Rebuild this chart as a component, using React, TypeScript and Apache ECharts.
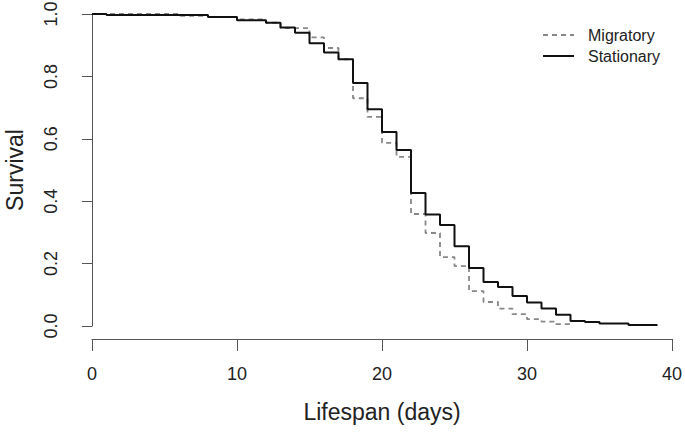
import React, { useEffect, useRef } from "react";
import * as echarts from "echarts";

const migratoryDays = [0, 6, 8, 10, 12, 13, 15, 16, 17, 18, 19, 20, 21, 22, 23, 24, 25, 26, 27, 28, 29, 30, 31, 32, 33];
const migratorySurvival = [1.0, 0.994, 0.99, 0.983, 0.972, 0.955, 0.925, 0.891, 0.855, 0.73, 0.67, 0.587, 0.542, 0.359, 0.298, 0.221, 0.192, 0.112, 0.077, 0.056, 0.038, 0.022, 0.014, 0.006, 0.003];

const stationaryDays = [0, 1, 8, 10, 12, 13, 14, 15, 16, 17, 18, 19, 20, 21, 22, 23, 24, 25, 26, 27, 28, 29, 30, 31, 32, 33, 34, 35, 37, 39];
const stationarySurvival = [1.0, 0.997, 0.99, 0.98, 0.972, 0.957, 0.94, 0.906, 0.877, 0.855, 0.779, 0.695, 0.622, 0.564, 0.426, 0.357, 0.324, 0.256, 0.186, 0.141, 0.125, 0.096, 0.075, 0.056, 0.036, 0.016, 0.013, 0.008, 0.003, 0.003];

const seriesNames = ["Migratory", "Stationary"];
const xTitle = "Lifespan (days)";
const yTitle = "Survival";

const tickFont = "'Liberation Sans', Arial, sans-serif";
const titleFont = "'Liberation Sans', Arial, sans-serif";
const textColor = "#222";
const axisColor = "#555";

export default function App() {
  const ref = useRef<HTMLDivElement>(null);
  useEffect(() => {
    if (!ref.current) return;
    const chart = echarts.init(ref.current, null, { renderer: "svg" });
    const mig = migratoryDays.map((d, i) => [d, migratorySurvival[i]]);
    const sta = stationaryDays.map((d, i) => [d, stationarySurvival[i]]);
    chart.setOption({
      animation: false,
      backgroundColor: "#ffffff",
      grid: { left: 92, right: 13, top: 14, bottom: 109, containLabel: false, outerBoundsMode: "none" },
      legend: {
        orient: "vertical",
        left: 537,
        top: 22,
        itemWidth: 31,
        itemHeight: 14,
        itemGap: 5,
        itemStyle: { color: "rgba(0,0,0,0)", borderWidth: 0, opacity: 0 },
        textStyle: { fontFamily: titleFont, fontSize: 16, color: textColor, padding: [0, 0, 0, 9] },
        data: seriesNames,
      },
      xAxis: {
        type: "value",
        min: 0,
        max: 40,
        interval: 10,
        offset: 13,
        splitLine: { show: false },
        axisLine: { show: true, onZero: false, lineStyle: { color: axisColor, width: 1 } },
        axisTick: { show: true, inside: false, length: 12, lineStyle: { color: axisColor } },
        axisLabel: { margin: 26, fontFamily: tickFont, fontSize: 18, color: textColor },
        name: xTitle,
        nameLocation: "middle",
        nameGap: 61,
        nameTextStyle: { fontFamily: titleFont, fontSize: 23, color: textColor },
      },
      yAxis: {
        type: "value",
        min: 0,
        max: 1,
        interval: 0.2,
        splitLine: { show: false },
        axisLine: { show: true, lineStyle: { color: axisColor, width: 1 } },
        axisTick: { show: true, inside: false, length: 10, lineStyle: { color: axisColor } },
        axisLabel: {
          rotate: 90,
          margin: 32,
          fontFamily: tickFont,
          fontSize: 18,
          color: textColor,
          formatter: (v: number) => v.toFixed(1),
        },
        name: yTitle,
        nameLocation: "middle",
        nameGap: 66,
        nameRotate: 90,
        nameTextStyle: { fontFamily: titleFont, fontSize: 23, color: textColor },
      },
      series: [
        {
          name: seriesNames[0],
          type: "line",
          step: "end",
          symbol: "none",
          data: mig,
          lineStyle: { color: "#888888", width: 1.8, type: [5, 4] },
          itemStyle: { color: "#888888" },
          z: 2,
        },
        {
          name: seriesNames[1],
          type: "line",
          step: "end",
          symbol: "none",
          data: sta,
          lineStyle: { color: "#111111", width: 2 },
          itemStyle: { color: "#111111" },
          z: 3,
        },
      ],
    });
    return () => chart.dispose();
  }, []);
  return (
    <div
      ref={ref}
      style={{ position: "absolute", left: 0, top: 0, width: 685, height: 435, background: "#fff" }}
    />
  );
}
